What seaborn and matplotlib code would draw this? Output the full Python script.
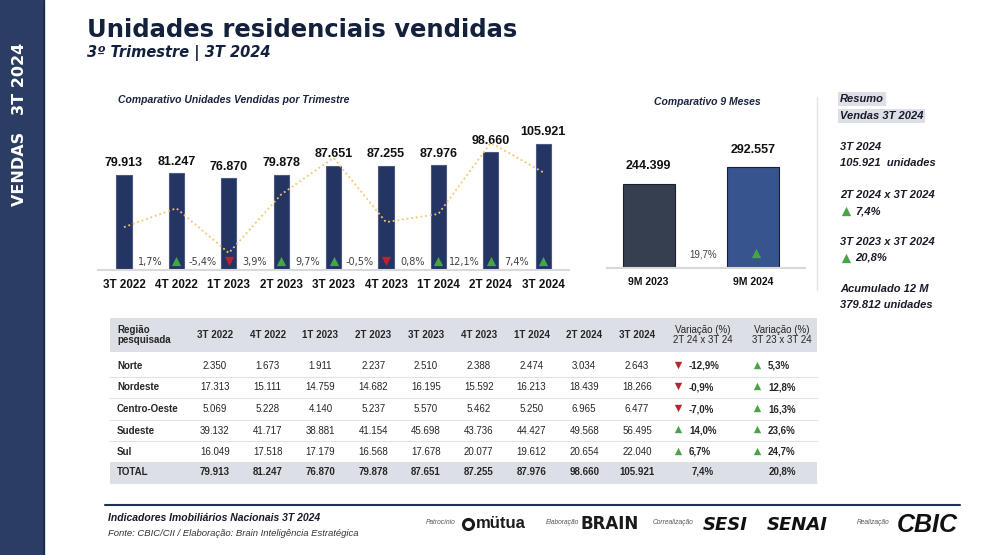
import matplotlib.pyplot as plt
import matplotlib.patches as mpatches
import numpy as np
import seaborn as sns
from matplotlib import font_manager

quarters = ["3T 2022", "4T 2022", "1T 2023", "2T 2023", "3T 2023",
            "4T 2023", "1T 2024", "2T 2024", "3T 2024"]
total_units = [79913, 81247, 76870, 79878, 87651, 87255, 87976, 98660, 105921]
# quarter-over-quarter change (%), first one
qoq_pct = [-1.3, 1.7, -5.4, 3.9, 9.7, -0.5, 0.8, 12.1, 7.4]

nine_month_labels = ["9M 2023", "9M 2024"]
nine_month_units = [244399, 292557]
nine_month_var = 19.7

regions = ["Norte", "Nordeste", "Centro-Oeste", "Sudeste", "Sul"]
norte = [2350, 1673, 1911, 2237, 2510, 2388, 2474, 3034, 2643]
nordeste = [17313, 15111, 14759, 14682, 16195, 15592, 16213, 18439, 18266]
centro_oeste = [5069, 5228, 4140, 5237, 5570, 5462, 5250, 6965, 6477]
sudeste = [39132, 41717, 38881, 41154, 45698, 43736, 44427, 49568, 56495]
sul = [16049, 17518, 17179, 16568, 17678, 20077, 19612, 20654, 22040]
var_2t_3t = [-12.9, -0.9, -7.0, 14.0, 6.7]
var_3t23_3t24 = [5.3, 12.8, 16.3, 23.6, 24.7]
total_var_2t_3t = 7.4
total_var_3t23_3t24 = 20.8

summary_units = 105921
summary_12m = 379812

sns.set_theme(style="white")
plt.rcParams["font.family"] = ["Liberation Sans", "DejaVu Sans"]

installed = {f.name for f in font_manager.fontManager.ttflist}
NARROW = "Liberation Sans Narrow" if "Liberation Sans Narrow" in installed else "Liberation Sans"

NAVY = "#14213d"
BAR = "#243463"
GREEN = "#47a447"
RED = "#b8262b"
GRAYBG = "#dcdfe6"

W, H = 1000, 555


def num(v):
    return f"{v:,}".replace(",", ".")


def pct(v):
    return f"{v:.1f}%".replace(".", ",")


def box(x0, y0, x1, y1):
    # pixel box, origin top-left -> figure fractions
    return [x0 / W, 1 - y1 / H, (x1 - x0) / W, (y1 - y0) / H]


fig = plt.figure(figsize=(10, 5.55), dpi=100)

bg = fig.add_axes([0, 0, 1, 1])
bg.set_xlim(0, W)
bg.set_ylim(H, 0)
bg.axis("off")

# side band
bg.add_patch(mpatches.Rectangle((0, 0), 44, H, color="#2b3d63", zorder=1))
bg.plot([44, 44], [0, H], color="#1a2a4a", lw=1.2, zorder=2)
bg.text(20, 124, "VENDAS   3T 2024", rotation=90, color="white", fontsize=11.5,
        fontweight="bold", ha="center", va="center", family="DejaVu Sans")

# titles
bg.text(87, 30, "Unidades residenciais vendidas", fontsize=17.5, fontweight="bold",
        family="DejaVu Sans", color=NAVY, va="center")
bg.text(87, 53, "3º Trimestre | 3T 2024", fontsize=10.5, fontweight="bold",
        style="italic", family="DejaVu Sans", color=NAVY, va="center")

# quarterly chart
ax = fig.add_axes(box(97.8, 127, 569.4, 270))
ax.patch.set_alpha(0)
sns.barplot(x=quarters, y=total_units, color=BAR, width=0.29, edgecolor="#4a5a85",
            linewidth=0.8, saturation=1, ax=ax)
ax.set_xlim(-0.5, 8.5)
ax.set_ylim(0, 120000)
for i, v in enumerate(total_units):
    ax.annotate(num(v), (i, v), xytext=(0, 4), textcoords="offset points",
                ha="center", va="bottom", fontsize=9, fontweight="bold", color="#111111")
for i in range(1, len(quarters)):
    ax.text(i - 0.5, 0.056, pct(qoq_pct[i]), transform=ax.get_xaxis_transform(),
            ha="center", va="center", fontsize=7, color="#404040", family="DejaVu Sans")
    up = qoq_pct[i] >= 0
    ax.scatter(i, 0.062, marker="^" if up else "v", s=45, color=GREEN if up else RED,
               transform=ax.get_xaxis_transform(), zorder=5, linewidths=0)
ax.set_xlabel("")
ax.set_ylabel("")
ax.set_yticks([])
ax.tick_params(axis="x", length=0, pad=6.5)
for lbl in ax.get_xticklabels():
    lbl.set_fontsize(8.4)
    lbl.set_fontweight("bold")
    lbl.set_color("#111111")
for s in ["top", "left", "right"]:
    ax.spines[s].set_visible(False)
ax.spines["bottom"].set_color("#d9d9d9")
ax.spines["bottom"].set_linewidth(1.5)

ax2 = ax.twinx()
ax2.plot(range(len(quarters)), qoq_pct, linestyle=(0, (1, 1.6)), color="#f6c66f", lw=1.3)
ax2.set_ylim(-8.1, 14.6)
ax2.axis("off")

bg.text(118, 100, "Comparativo Unidades Vendidas por Trimestre", fontsize=7.5,
        fontweight="bold", style="italic", color="#1a2440", va="center")

# 9 months chart
ax3 = fig.add_axes(box(607, 147, 805, 268))
ax3.patch.set_alpha(0)
sns.barplot(x=nine_month_labels, y=nine_month_units, hue=nine_month_labels,
            palette=["#353f50", "#37548f"], width=0.5, edgecolor="#1a1f2a",
            linewidth=0.8, saturation=1, legend=False, ax=ax3)
ax3.set_xlim(-0.4, 1.5)
ax3.set_ylim(0, 350000)
for i, v in enumerate(nine_month_units):
    ax3.annotate(num(v), (i, v), xytext=(0, 8), textcoords="offset points",
                 ha="center", va="bottom", fontsize=9, fontweight="bold", color="#111111")
ax3.text(0.52, 0.11, pct(nine_month_var), transform=ax3.get_xaxis_transform(),
         ha="center", va="center", fontsize=7, color="#404040", family=NARROW)
ax3.scatter(1.03, 0.12, marker="^", s=45, color=GREEN, transform=ax3.get_xaxis_transform(),
            zorder=5, linewidths=0)
ax3.set_xlabel("")
ax3.set_ylabel("")
ax3.set_yticks([])
ax3.tick_params(axis="x", length=0, pad=6.5)
for lbl in ax3.get_xticklabels():
    lbl.set_fontsize(7.5)
    lbl.set_fontweight("bold")
    lbl.set_color("#111111")
for s in ["top", "left", "right"]:
    ax3.spines[s].set_visible(False)
ax3.spines["bottom"].set_color("#d9d9d9")
ax3.spines["bottom"].set_linewidth(1.5)

bg.text(707, 102, "Comparativo 9 Meses", fontsize=7.5, fontweight="bold",
        style="italic", color="#1a2440", ha="center", va="center")

bg.plot([817, 817], [97, 290], color="#e4e4e4", lw=1)

# summary column
sum_kw = dict(fontsize=8, fontweight="bold", style="italic", color="#1a1a2a", va="center")
hl = dict(facecolor=GRAYBG, edgecolor="none", pad=1.2)
bg.text(840, 99, "Resumo", bbox=hl, **sum_kw)
bg.text(840, 116, "Vendas 3T 2024", bbox=hl, **sum_kw)
bg.text(840, 147, "3T 2024", **sum_kw)
bg.text(840, 163, f"{num(summary_units)}  unidades", **sum_kw)
bg.text(840, 195, "2T 2024 x 3T 2024", **sum_kw)
bg.scatter(846, 211, marker="^", s=45, color=GREEN, linewidths=0)
bg.text(855, 211, pct(total_var_2t_3t), **sum_kw)
bg.text(840, 242, "3T 2023 x 3T 2024", **sum_kw)
bg.scatter(846, 258, marker="^", s=45, color=GREEN, linewidths=0)
bg.text(855, 258, pct(total_var_3t23_3t24), **sum_kw)
bg.text(840, 289, "Acumulado 12 M", **sum_kw)
bg.text(840, 305, f"{num(summary_12m)} unidades", **sum_kw)

# table
rows = [norte, nordeste, centro_oeste, sudeste, sul]
col_x = np.linspace(215, 637, len(quarters))
row_y = 366 + 21.5 * np.arange(len(regions))
tx0, tx1 = 110, 817
bg.add_patch(mpatches.Rectangle((tx0, 318), tx1 - tx0, 34, color=GRAYBG, lw=0))
bg.add_patch(mpatches.Rectangle((tx0, 462), tx1 - tx0, 21, color=GRAYBG, lw=0))
for y in row_y[:-1] + 10.75:
    bg.plot([tx0, tx1], [y, y], color="#dfe2e8", lw=0.8)
bg.plot([tx0, tx1], [483, 483], color="#dfe2e8", lw=0.8)

tkw = dict(family=NARROW, va="center", color="#262626")
bg.text(117, 335, "Região\npesquisada", fontsize=7, fontweight="bold",
        linespacing=1.0, ha="left", **tkw)
for x, q in zip(col_x, quarters):
    bg.text(x, 335, q, fontsize=7, fontweight="bold", ha="center", **tkw)
bg.text(703, 335, "Variação (%)\n2T 24 x 3T 24", fontsize=7, linespacing=1.0,
        ha="center", **tkw)
bg.text(782, 335, "Variação (%)\n3T 23 x 3T 24", fontsize=7, linespacing=1.0,
        ha="center", **tkw)

for r, (name, vals) in enumerate(zip(regions, rows)):
    y = row_y[r]
    bg.text(117, y, name, fontsize=7, fontweight="bold", ha="left", **tkw)
    for x, v in zip(col_x, vals):
        bg.text(x, y, num(v), fontsize=7, ha="center", **tkw)
    for tri_x, txt_x, v in [(678, 689, var_2t_3t[r]), (757, 768, var_3t23_3t24[r])]:
        up = v >= 0
        bg.scatter(tri_x, y - 1.5, marker="^" if up else "v", s=28,
                   color=GREEN if up else RED, linewidths=0)
        bg.text(txt_x, y, pct(v), fontsize=7, fontweight="bold", ha="left", **tkw)

bg.text(117, 472, "TOTAL", fontsize=7, fontweight="bold", ha="left", **tkw)
for x, v in zip(col_x, total_units):
    bg.text(x, 472, num(v), fontsize=7, fontweight="bold", ha="center", **tkw)
bg.text(703, 472, pct(total_var_2t_3t), fontsize=7, fontweight="bold", ha="center", **tkw)
bg.text(782, 472, pct(total_var_3t23_3t24), fontsize=7, fontweight="bold", ha="center", **tkw)

# footer
bg.plot([105, 960], [505, 505], color="#1f3050", lw=1.5)
bg.text(108, 518, "Indicadores Imobiliários Nacionais 3T 2024", fontsize=7.5,
        fontweight="bold", style="italic", color="#1a1a2a", va="center")
bg.text(108, 533, "Fonte: CBIC/CII / Elaboração: Brain Inteligência Estratégica",
        fontsize=6.8, style="italic", color="#333333", va="center", family=NARROW)

small = dict(fontsize=4.8, style="italic", color="#555555", va="center")
bg.text(426, 522, "Patrocínio", **small)
bg.scatter(468, 524, s=90, color="#1a1a1a", linewidths=0)
bg.scatter(468, 524, s=25, color="white", linewidths=0)
bg.text(476, 523, "mütua", fontsize=12, fontweight="bold", color="#1a1a1a", va="center")
bg.text(546, 522, "Elaboração", **small)
bg.text(581, 524, "BRAIN", fontsize=12, fontweight="bold", color="#1a1a1a", va="center",
        family="DejaVu Sans")
bg.text(653, 522, "Correalização", **small)
bg.text(703, 525, "SESI", fontsize=13, fontweight="bold", style="italic", color="#111111",
        va="center", family="DejaVu Sans")
bg.text(767, 525, "SENAI", fontsize=13, fontweight="bold", style="italic", color="#111111",
        va="center", family="DejaVu Sans")
bg.text(857, 522, "Realização", **small)
bg.text(897, 525, "CBIC", fontsize=18, fontweight="bold", style="italic", color="#111111",
        va="center")

fig.savefig("out.png", dpi=100)
